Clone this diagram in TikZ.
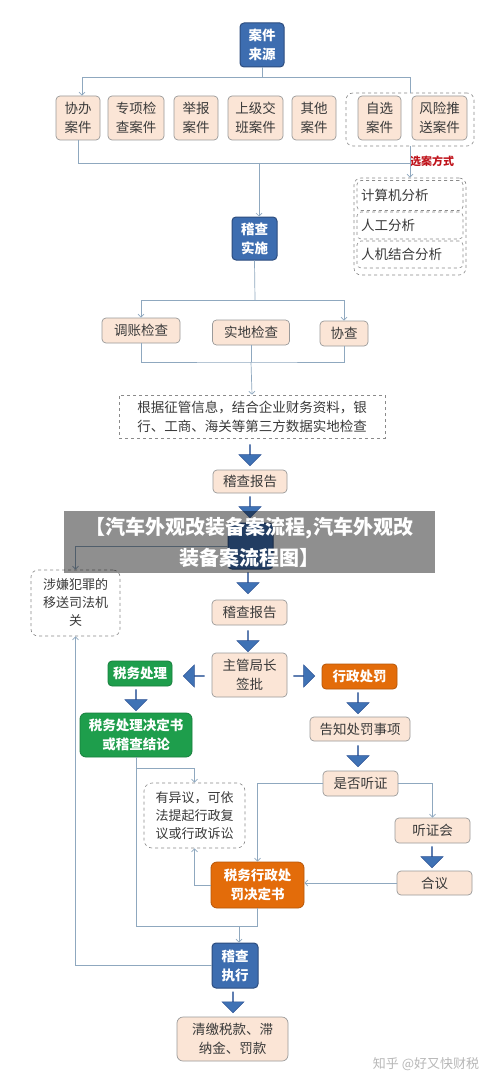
\documentclass[tikz,border=0pt]{standalone}
\usepackage{fontspec}
\setmainfont{Noto Sans CJK SC}
\usetikzlibrary{arrows.meta,shapes.arrows}
\definecolor{bluef}{HTML}{3D6DB0}
\definecolor{bluee}{HTML}{2C4C7E}
\definecolor{peach}{HTML}{FBE5D6}
\definecolor{peache}{HTML}{9A9A9A}
\definecolor{greenf}{HTML}{1E9E4C}
\definecolor{orangef}{HTML}{E36C0A}
\definecolor{linec}{HTML}{8FA8BF}
\definecolor{barc}{HTML}{3F72B5}
\definecolor{bare}{HTML}{2F5496}
\definecolor{txt}{HTML}{3A3A3A}
\definecolor{redt}{HTML}{C0141C}
\definecolor{dashc}{HTML}{8A8A8A}
\newcommand\myfs{\fontsize{13.5}{19}\selectfont}
\tikzset{
  base/.style={rounded corners=4pt, align=center, inner sep=0pt, font=\myfs},
  peachbox/.style={base, draw=peache, fill=peach, text=txt, line width=0.7pt},
  bluebox/.style={base, draw=bluee, fill=bluef, text=white, font=\myfs\bfseries, line width=1pt},
  greenbox/.style={base, draw=greenf!80!black, fill=greenf, text=white, font=\myfs\bfseries, line width=0.8pt},
  orangebox/.style={base, draw=orangef!80!black, fill=orangef, text=white, font=\myfs\bfseries, line width=0.8pt},
  dbox/.style={base, draw=dashc, dashed, fill=white, text=txt, line width=0.6pt},
  grpbox/.style={draw=dashc, dashed, rounded corners=7pt, line width=0.6pt, inner sep=0pt},
  line/.style={draw=linec, line width=0.7pt},
  conn/.style={line, -{Straight Barb[length=3pt,width=6pt]}},
  barrow/.style={single arrow, draw=bare, fill=barc, minimum height=21pt, minimum width=22pt,
    single arrow head extend=5.5pt, inner sep=0pt, line width=0.5pt},
}
\begin{document}
\begin{tikzpicture}[x=1pt,y=-1pt]
\fill[white] (0,0) rectangle (500,1086);
\useasboundingbox (0,0) rectangle (500,1086);

% sources
\node[bluebox, minimum width=44pt, minimum height=44pt] (src) at (262,45) {案件\\来源};
\node[peachbox, minimum width=44pt, minimum height=44pt] (xb) at (78,118) {协办\\案件};
\node[peachbox, minimum width=56pt, minimum height=44pt] (zxj) at (136,118) {专项检\\查案件};
\node[peachbox, minimum width=44pt, minimum height=44pt] (jb) at (196,118) {举报\\案件};
\node[peachbox, minimum width=55pt, minimum height=44pt] (sj) at (255.5,118) {上级交\\班案件};
\node[peachbox, minimum width=44pt, minimum height=44pt] (qt) at (314,118) {其他\\案件};
\node[grpbox, minimum width=128pt, minimum height=53pt] (zgrp) at (410,119.5) {};
\node[peachbox, minimum width=43pt, minimum height=44pt] (zixuan) at (379.5,118) {自选\\案件};
\node[peachbox, minimum width=55pt, minimum height=44pt] (fx) at (439.5,118) {风险推\\送案件};
\node[text=redt, font=\fontsize{11}{13}\selectfont\bfseries, inner sep=0pt] (xafs) at (432,161) {选案方式};

% selection methods
\node[grpbox, minimum width=112pt, minimum height=97pt] (meth) at (410,226.5) {};
\node[base, draw=dashc, dashed, fill=white, text=txt, line width=0.6pt, text width=98pt, inner xsep=4pt, minimum height=30pt, align=left] (jsj) at (410,195.5) {计算机分析};
\node[base, draw=dashc, dashed, fill=white, text=txt, line width=0.6pt, text width=98pt, inner xsep=4pt, minimum height=27pt, align=left] (rg) at (410,225.5) {人工分析};
\node[base, draw=dashc, dashed, fill=white, text=txt, line width=0.6pt, text width=98pt, inner xsep=4pt, minimum height=27pt, align=left] (rj) at (410,254.5) {人机结合分析};

% inspection
\node[bluebox, minimum width=45pt, minimum height=43pt] (jcss) at (254.5,238.5) {稽查\\实施};
\node[peachbox, minimum width=78pt, minimum height=25pt] (tz) at (141,330.5) {调账检查};
\node[peachbox, minimum width=77pt, minimum height=25pt] (sd) at (251,332.5) {实地检查};
\node[peachbox, minimum width=48pt, minimum height=25pt] (xc) at (344,333.5) {协查};
\node[dbox, rounded corners=0pt, minimum width=266pt, minimum height=43pt] (info) at (252,416.5) {根据征管信息，结合企业财务资料，银\\行、工商、海关等第三方数据实地检查};

\node[barrow, rotate=-90] (a1) at (250,455) {};
\node[peachbox, minimum width=74pt, minimum height=23pt] (bg1) at (250,481.5) {稽查报告};
\node[barrow, rotate=-90] (a2) at (250,507) {};
\node[bluebox, minimum width=45pt, minimum height=46pt] (sl) at (250.5,546) {};

\node[dbox, rounded corners=7pt, minimum width=89pt, minimum height=66pt, font=\fontsize{13}{18}\selectfont] (sx) at (75.5,603) {涉嫌犯罪的\\移送司法机\\关};
\node[barrow, rotate=-90] (a3) at (248,583) {};
\node[peachbox, minimum width=75pt, minimum height=25pt] (bg2) at (249.5,612.5) {稽查报告};
\node[barrow, rotate=-90] (a4) at (248,641) {};
\node[peachbox, minimum width=75pt, minimum height=44pt] (qp) at (249.5,675) {主管局长\\签批};
\node[barrow, rotate=180] (al) at (194,676) {};
\node[barrow] (ar) at (304,676) {};
\node[greenbox, minimum width=64pt, minimum height=25pt] (swcl) at (140,673.5) {税务处理};
\node[orangebox, minimum width=75pt, minimum height=25pt] (xzcf) at (359.5,676.5) {行政处罚};

\node[barrow, rotate=-90] (a5) at (136,700) {};
\node[greenbox, minimum width=112pt, minimum height=44pt, rounded corners=6pt] (swjd) at (136,735) {税务处理决定书\\或稽查结论};
\node[barrow, rotate=-90] (a6) at (358,703) {};
\node[peachbox, minimum width=100pt, minimum height=24pt] (gz) at (360,729) {告知处罚事项};
\node[barrow, rotate=-90] (a7) at (358,756) {};
\node[peachbox, minimum width=75pt, minimum height=25pt] (sf) at (360.5,783.5) {是否听证};
\node[dbox, rounded corners=8pt, minimum width=101pt, minimum height=65pt, font=\fontsize{13}{18}\selectfont] (yy) at (194.5,815.5) {有异议，可依\\法提起行政复\\议或行政诉讼};
\node[peachbox, minimum width=75pt, minimum height=25pt] (tzh) at (432.5,830.5) {听证会};
\node[barrow, rotate=-90] (a8) at (432,857) {};
\node[peachbox, minimum width=75pt, minimum height=24pt] (hy) at (434.5,883) {合议};
\node[orangebox, minimum width=93pt, minimum height=46pt, rounded corners=6pt] (xzjd) at (257.5,885) {税务行政处\\罚决定书};

\node[bluebox, minimum width=46pt, minimum height=45pt] (zhx) at (235,965.5) {稽查\\执行};
\node[barrow, rotate=-90] (a9) at (233,1002) {};
\node[peachbox, minimum width=111pt, minimum height=44pt, rounded corners=6pt] (qj) at (232.5,1039) {清缴税款、滞\\纳金、罚款};

% connectors
\coordinate (j1) at (262,77);
\draw[line] (src.south) -- (j1);
\draw[conn] (j1) -| ([xshift=4pt]xb.north);
\draw[line] (j1) -| (zgrp.north);
\coordinate (j2) at (410,163);
\draw[line] (xb.south) |- (j2);
\draw[conn] (zgrp.south) -- (meth.north);
\coordinate (j3) at (259,163);
\draw[conn] (j3) -- (j3 |- jcss.north);
\coordinate (j4) at (255,300);
\draw[line] (jcss.south) -- (j4);
\draw[conn] (j4) -| (tz.north);
\draw[conn] (j4) -| (xc.north);
\coordinate (j5) at (251,362);
\draw[line] (tz.south) |- (j5) -| (xc.south);
\draw[line] (sd.south) -- (j5);
\draw[conn] (j5) -- (info.north);
\draw[conn] (sl.west) -| (sx.north);
\draw[conn] (zhx.west) -| (sx.south);
\coordinate (j6) at (257.5,926);
\draw[line] (swjd.south) |- (j6) -- (xzjd.south);
\coordinate (j7) at (239,926);
\draw[conn] (j7) -- (j7 |- zhx.north);
\coordinate (j8) at (136,768);
\draw[conn] (j8) -| (yy.north);
\draw[conn] (sf.west) -| (xzjd.north);
\draw[conn] (sf.east) -| (tzh.north);
\draw[conn] (hy.west) -- (hy.west -| xzjd.east);
\draw[conn] (xzjd.west) -| (yy.south);

% banner overlay
\node[fill=black, fill opacity=0.44, text opacity=1, text=white, minimum width=371pt, minimum height=62pt, inner sep=0pt, align=center, font=\fontsize{20}{31}\selectfont\bfseries] (banner) at (249.5,542) {【汽车外观改装备案流程,汽车外观改\\装备案流程图】};

% watermark
\node[text=black!28, font=\fontsize{13}{15}\selectfont, inner sep=0pt] (wm) at (426,1064) {知乎 @好又快财税};
\end{tikzpicture}
\end{document}
